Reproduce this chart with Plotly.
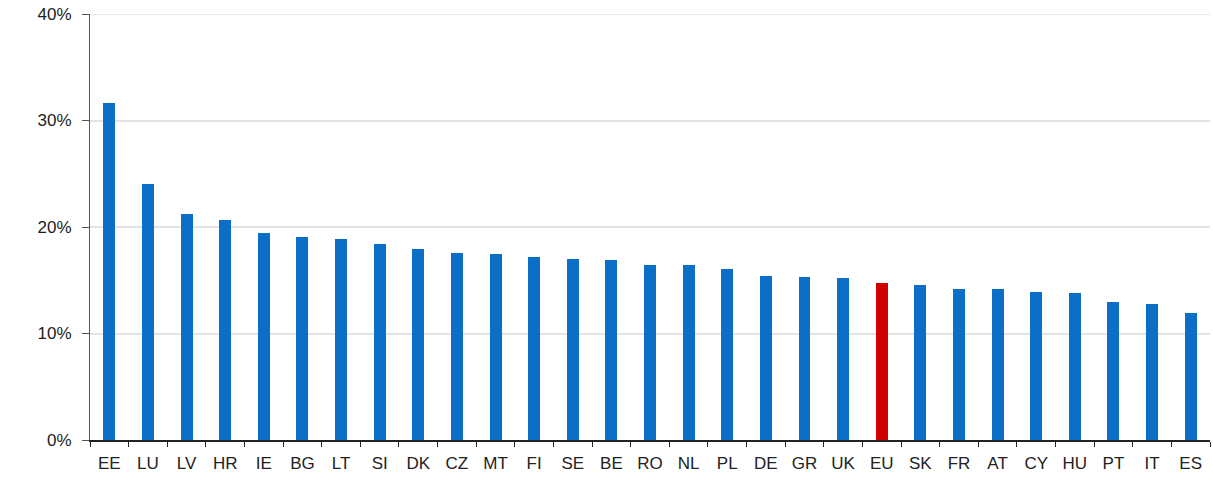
import plotly.graph_objects as go

countries = ["EE", "LU", "LV", "HR", "IE", "BG", "LT", "SI", "DK", "CZ", "MT", "FI", "SE", "BE", "RO",
             "NL", "PL", "DE", "GR", "UK", "EU", "SK", "FR", "AT", "CY", "HU", "PT", "IT", "ES"]
values = [31.6, 24.0, 21.2, 20.7, 19.4, 19.1, 18.9, 18.4, 17.9, 17.6, 17.5, 17.2, 17.0, 16.9, 16.4,
          16.4, 16.1, 15.4, 15.3, 15.2, 14.7, 14.6, 14.2, 14.2, 13.9, 13.8, 13.0, 12.8, 11.9]
highlight = "EU"
y_ticks = [0, 10, 20, 30, 40]

colors = ["#d00000" if c == highlight else "#0b6fc7" for c in countries]

fig = go.Figure(go.Bar(x=countries, y=[v / 100 for v in values], marker_color=colors,
                       marker_line_width=0, width=0.31))

fig.update_layout(
    width=1213, height=477,
    margin=dict(l=90, r=3, t=14, b=37),
    plot_bgcolor="white", paper_bgcolor="white",
    font=dict(family="Liberation Sans, Arial, sans-serif", size=17, color="#222222"),
    showlegend=False, bargap=0,
)
fig.update_xaxes(
    showline=True, linecolor="#222222", linewidth=1.5,
    ticks="outside", tickson="boundaries", ticklen=5, tickcolor="#222222",
    showgrid=False, tickfont=dict(size=17), ticklabelstandoff=7,
)
fig.update_yaxes(
    range=[0, 0.40], tickvals=[t / 100 for t in y_ticks], tickformat=".0%",
    showline=True, linecolor="#555555", linewidth=1,
    ticks="outside", ticklen=7, tickcolor="#555555",
    showgrid=True, gridcolor="#e3e3e3", gridwidth=1.5,
    zeroline=False, ticklabelstandoff=7, tickfont=dict(size=17),
)
# top gridline (Plotly omits the gridline that falls on the range edge)
fig.add_shape(type="line", xref="paper", yref="y", x0=0, x1=1,
              y0=y_ticks[-1] / 100, y1=y_ticks[-1] / 100,
              line=dict(color="#e3e3e3", width=1.5), layer="below")

fig.write_html("out.html", config={"displayModeBar": False},
               post_script="document.body.style.margin='0';")
